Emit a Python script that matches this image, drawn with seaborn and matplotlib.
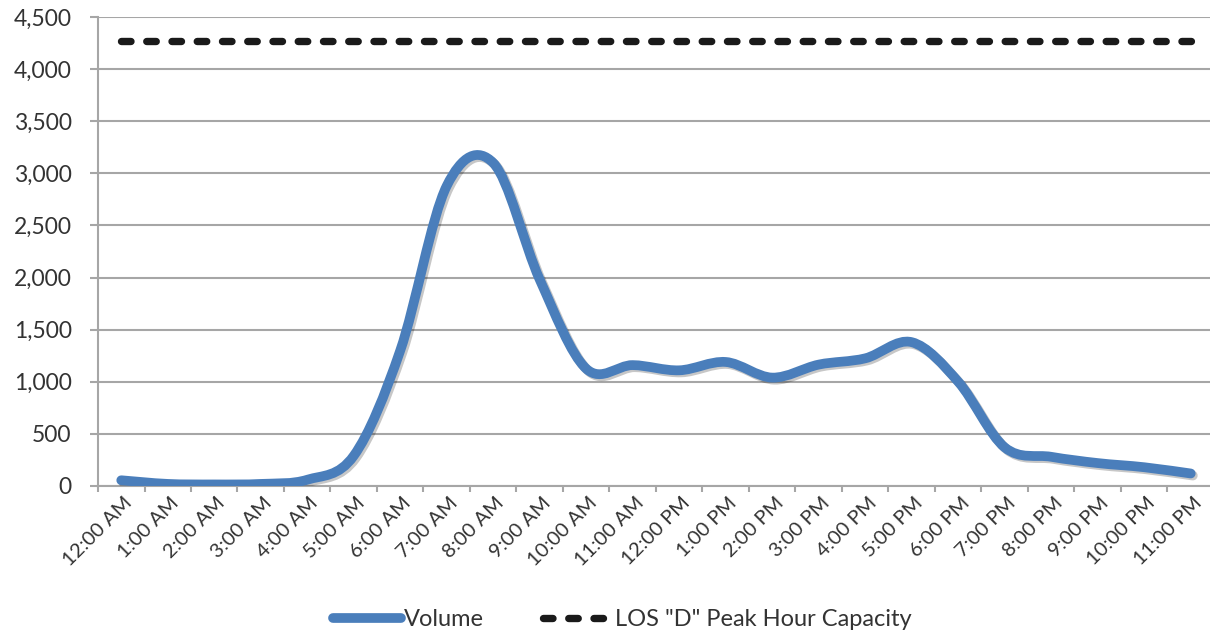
import numpy as np
import pandas as pd
import seaborn as sns
import matplotlib.pyplot as plt
import matplotlib.patheffects as pe
from matplotlib.path import Path
from matplotlib.patches import PathPatch
from matplotlib.lines import Line2D
from matplotlib.transforms import ScaledTranslation

# hourly volumes
hours = ["12:00 AM", "1:00 AM", "2:00 AM", "3:00 AM", "4:00 AM", "5:00 AM",
         "6:00 AM", "7:00 AM", "8:00 AM", "9:00 AM", "10:00 AM", "11:00 AM",
         "12:00 PM", "1:00 PM", "2:00 PM", "3:00 PM", "4:00 PM", "5:00 PM",
         "6:00 PM", "7:00 PM", "8:00 PM", "9:00 PM", "10:00 PM", "11:00 PM"]
volume = [55, 20, 15, 20, 60, 290, 1300, 2880, 3100, 1980, 1125, 1160,
          1110, 1190, 1040, 1165, 1225, 1380, 1000, 370, 280, 220, 180, 120]
capacity = [4270] * 24

BLUE = "#4a7ebb"
BLACK = "#1a1a1a"
GRID = "#a6a6a6"
TEXT = "#333333"


def smooth_path(xs, ys):
    """Bezier path through the points (same idea as Excel's smoothed line)."""
    verts = [(xs[0], ys[0])]
    codes = [Path.MOVETO]
    n = len(xs)
    for i in range(n - 1):
        p0 = max(i - 1, 0)
        p3 = min(i + 2, n - 1)
        c1 = (xs[i] + (xs[i + 1] - xs[p0]) / 6, ys[i] + (ys[i + 1] - ys[p0]) / 6)
        c2 = (xs[i + 1] - (xs[p3] - xs[i]) / 6, ys[i + 1] - (ys[p3] - ys[i]) / 6)
        verts += [c1, c2, (xs[i + 1], ys[i + 1])]
        codes += [Path.CURVE4] * 3
    return Path(verts, codes)


sns.set_style("white")
plt.rcParams["font.family"] = ["Lato", "DejaVu Sans"]

df = pd.DataFrame({"pos": np.arange(len(hours)), "hour": hours,
                   "volume": volume, "capacity": capacity})

fig = plt.figure(figsize=(12.1, 6.37), dpi=100)
ax = fig.add_axes([98 / 1210, 151 / 637, 1116 / 1210, 469 / 637])

# capacity line
sns.lineplot(data=df, x="pos", y="capacity", ax=ax, color=BLACK, lw=5.3,
             linestyle=(0, (1.29, 2.14)), dash_capstyle="round", legend=False,
             zorder=3)

# volume line, smoothed
patch = PathPatch(smooth_path(df["pos"].to_numpy(float), df["volume"].to_numpy(float)),
                  fill=False, edgecolor=BLUE, lw=7, capstyle="round",
                  joinstyle="round", zorder=4,
                  path_effects=[pe.SimpleLineShadow(offset=(1.5, -1.5), shadow_color="k", alpha=0.22),
                                pe.Normal()])
ax.add_patch(patch)

ax.set_xlim(-0.5, 23.5)
ax.set_ylim(0, 4500)
ax.set_yticks(np.arange(0, 4501, 500))
ax.set_yticklabels([f"{v:,}" for v in range(0, 4501, 500)])
ax.set_xticks(df["pos"])
ax.set_xticklabels(hours, rotation=45, ha="right", va="center",
                   rotation_mode="anchor")
ax.set_xticks(np.arange(-0.5, 24, 1), minor=True)
ax.set_xlabel("")
ax.set_ylabel("")

ax.yaxis.grid(True, color=GRID, lw=1.5)
ax.set_axisbelow(True)
for side in ["top", "right"]:
    ax.spines[side].set_visible(False)
for side in ["left", "bottom"]:
    ax.spines[side].set_color(GRID)
    ax.spines[side].set_linewidth(1.5)

ax.tick_params(axis="y", length=6, width=1.5, color=GRID, pad=13,
               labelsize=16.5, labelcolor=TEXT, left=True)
ax.tick_params(axis="x", which="major", length=0, pad=10, labelsize=14.5,
               labelcolor=TEXT)
ax.tick_params(axis="x", which="minor", length=4, width=1.5, color=GRID,
               bottom=True)
# nudge the slanted labels a little to the right, like the original
shift = ScaledTranslation(6 / 72, 0, fig.dpi_scale_trans)
for lbl in ax.get_xticklabels():
    lbl.set_transform(lbl.get_transform() + shift)

handles = [Line2D([], [], color=BLUE, lw=7, solid_capstyle="round"),
           Line2D([], [], color=BLACK, lw=5.3, linestyle=(0, (1.29, 2.14)),
                  dash_capstyle="round")]
fig.legend(handles, ["Volume", 'LOS "D" Peak Hour Capacity'], loc="center",
           bbox_to_anchor=(622 / 1210, 1 - 620 / 637), ncol=2, frameon=False,
           fontsize=17, labelcolor=TEXT, handlelength=2.9,
           handletextpad=0.12, columnspacing=2.5)

fig.savefig("out.png", dpi=100)
